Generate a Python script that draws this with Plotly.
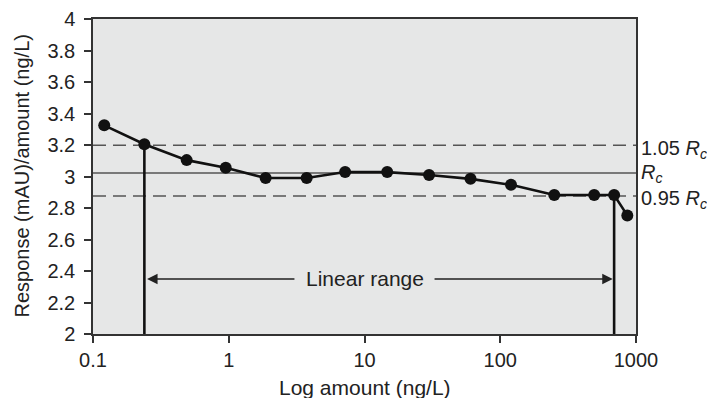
import plotly.graph_objects as go
import math

# Data
amount = [0.121, 0.239, 0.49, 0.95, 1.87, 3.75, 7.2, 14.7, 29.9, 60.4, 120, 250, 492, 690, 863]
response = [3.325, 3.205, 3.104, 3.056, 2.99, 2.99, 3.028, 3.028, 3.01, 2.985, 2.947, 2.883, 2.883, 2.883, 2.753]

rc_value = 3.022
upper_limit = 3.198
lower_limit = 2.876

linear_low = 0.239
linear_low_resp = 3.205
linear_high = 690
linear_high_resp = 2.883

x_tickvals = [0.1, 1, 10, 100, 1000]
x_ticktext = ["0.1", "1", "10", "100", "1000"]
y_tickvals = [2, 2.2, 2.4, 2.6, 2.8, 3, 3.2, 3.4, 3.6, 3.8, 4]
y_ticktext = ["2", "2.2", "2.4", "2.6", "2.8", "3", "3.2", "3.4", "3.6", "3.8", "4"]

FONT = "Liberation Sans, Arial, sans-serif"
TXT = "#222222"
REF = "#555555"

fig = go.Figure()

# Horizontal reference lines
for yv, dash in [(upper_limit, "13px,7px"), (rc_value, "solid"), (lower_limit, "13px,7px")]:
    fig.add_shape(type="line", xref="paper", yref="y", x0=0, x1=1, y0=yv, y1=yv,
                  line=dict(color=REF, width=1.6, dash=dash), layer="below")

# Vertical linear-range boundaries
fig.add_trace(go.Scatter(x=[linear_low, linear_low], y=[2, linear_low_resp], mode="lines",
                         line=dict(color="#111111", width=2.6), showlegend=False, hoverinfo="skip"))
fig.add_trace(go.Scatter(x=[linear_high, linear_high], y=[2, linear_high_resp], mode="lines",
                         line=dict(color="#111111", width=2.6), showlegend=False, hoverinfo="skip"))

# Data
fig.add_trace(go.Scatter(x=amount, y=response, mode="lines+markers",
                         line=dict(color="#111111", width=2.6),
                         marker=dict(color="#111111", size=12),
                         showlegend=False))

arrow_y = 2.35
fig.add_annotation(x=1, y=arrow_y, xref="x", yref="y", text="Linear range", showarrow=False,
                   font=dict(family=FONT, size=21, color=TXT))
fig.add_annotation(x=math.log10(linear_low) + 0.02, y=arrow_y, ax=0.495, ay=arrow_y,
                   xref="x", yref="y", axref="x", ayref="y", text="", showarrow=True,
                   arrowhead=2, arrowsize=1.4, arrowwidth=1.5, arrowcolor="#222222")
fig.add_annotation(x=math.log10(linear_high) - 0.01, y=arrow_y, ax=1.505, ay=arrow_y,
                   xref="x", yref="y", axref="x", ayref="y", text="", showarrow=True,
                   arrowhead=2, arrowsize=1.4, arrowwidth=1.5, arrowcolor="#222222")

# Right-side labels
for yv, label, ysh in [(upper_limit, "1.05 <i>R<sub>c</sub></i>", -4),
                       (rc_value, "<i>R<sub>c</sub></i>", 0),
                       (lower_limit, "0.95 <i>R<sub>c</sub></i>", -3)]:
    fig.add_annotation(x=1, y=yv, xref="paper", yref="y", text=label, showarrow=False,
                       xanchor="left", xshift=3, yshift=ysh,
                       font=dict(family=FONT, size=20, color=TXT))

# Axis titles
fig.add_annotation(x=0.5, y=0, xref="paper", yref="paper", text="Log amount (ng/L)",
                   showarrow=False, yanchor="middle", yshift=-53,
                   font=dict(family=FONT, size=21, color=TXT))
fig.add_annotation(x=0, y=0.5, xref="paper", yref="paper", text="Response (mAU)/amount (ng/L)",
                   showarrow=False, textangle=-90, xanchor="center", xshift=-72,
                   font=dict(family=FONT, size=20, color=TXT))

axis_common = dict(showgrid=False, zeroline=False, ticks="outside", ticklen=7, tickwidth=1.5,
                   tickcolor="#333333", showline=True, linecolor="#333333", linewidth=1.5,
                   mirror=True, tickfont=dict(size=20), automargin=False)

fig.update_layout(
    width=715, height=398,
    margin=dict(l=85, r=87, t=11, b=72),
    paper_bgcolor="white",
    plot_bgcolor="#e6e7e7",
    font=dict(family=FONT, size=20, color=TXT),
    xaxis=dict(type="log", range=[-1, 3], tickvals=x_tickvals, ticktext=x_ticktext, **axis_common),
    yaxis=dict(range=[2, 4], tickvals=y_tickvals, ticktext=y_ticktext, ticklabelstandoff=5,
               **axis_common),
)

fig.write_html("out.html")
